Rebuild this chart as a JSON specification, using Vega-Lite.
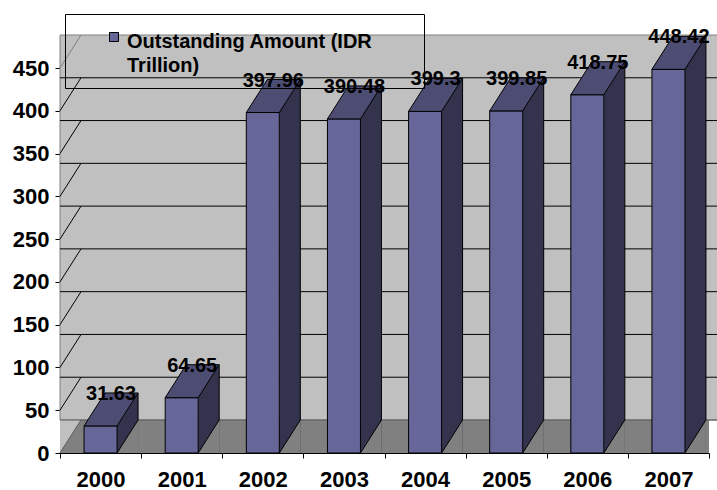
{
  "$schema": "https://vega.github.io/schema/vega-lite/v6.json",
  "width": 649,
  "height": 385,
  "autosize": {"type": "none"},
  "padding": {"left": 60, "top": 68, "right": 8, "bottom": 37},
  "background": "white",
  "config": {
    "view": {"fill": "#c0c0c0", "stroke": null},
    "font": "Liberation Sans",
    "style": {"guide-label": {"lineHeight": 24}}
  },
  "datasets": {
    "bonds": [
      {"year": "2000", "value": 31.63, "series": "Outstanding Amount (IDR Trillion)"},
      {"year": "2001", "value": 64.65, "series": "Outstanding Amount (IDR Trillion)"},
      {"year": "2002", "value": 397.96, "series": "Outstanding Amount (IDR Trillion)"},
      {"year": "2003", "value": 390.48, "series": "Outstanding Amount (IDR Trillion)"},
      {"year": "2004", "value": 399.3, "series": "Outstanding Amount (IDR Trillion)"},
      {"year": "2005", "value": 399.85, "series": "Outstanding Amount (IDR Trillion)"},
      {"year": "2006", "value": 418.75, "series": "Outstanding Amount (IDR Trillion)"},
      {"year": "2007", "value": 448.42, "series": "Outstanding Amount (IDR Trillion)"}
    ],
    "ticks": [
      {"v": 0}, {"v": 50}, {"v": 100}, {"v": 150}, {"v": 200},
      {"v": 250}, {"v": 300}, {"v": 350}, {"v": 400}, {"v": 450}
    ],
    "frame": [{"lo": 0, "hi": 450, "first": "2000", "last": "2007"}]
  },
  "resolve": {"scale": {"x": "shared", "y": "shared"}},
  "layer": [
    {
      "data": {"name": "frame"},
      "mark": {"type": "rect", "fill": "#c0c0c0", "stroke": "#808080", "strokeWidth": 1, "xOffset": 21, "x2Offset": 21, "yOffset": -33, "y2Offset": -33},
      "encoding": {
        "y": {"field": "lo", "type": "quantitative", "scale": {"domain": [0, 450], "nice": false, "zero": true},
          "axis": {"title": null, "values": [0, 50, 100, 150, 200, 250, 300, 350, 400, 450], "grid": false,
            "labelFont": "Liberation Sans", "labelFontSize": 22, "labelFontWeight": "bold", "labelColor": "black",
            "tickColor": "black", "tickSize": 5, "domainColor": "black", "labelPadding": 6}},
        "y2": {"field": "hi"}
      }
    },
    {
      "data": {"name": "frame"},
      "mark": {"type": "point", "shape": "M0,0 L21,-33 L21,0 Z", "size": 4, "filled": true, "fill": "#c0c0c0", "strokeWidth": 0, "opacity": 1},
      "encoding": {
        "x": {"field": "first", "type": "ordinal", "bandPosition": 0},
        "y": {"field": "hi", "type": "quantitative"}
      }
    },
    {
      "data": {"name": "frame"},
      "mark": {"type": "point", "shape": "M0,0 L21,-33", "size": 4, "filled": false, "stroke": "#808080", "strokeWidth": 1, "opacity": 1},
      "encoding": {
        "x": {"field": "first", "type": "ordinal", "bandPosition": 0},
        "y": {"field": "hi", "type": "quantitative"}
      }
    },
    {
      "data": {"name": "frame"},
      "mark": {"type": "rect", "fill": "#808080", "strokeWidth": 0, "xOffset": 0.01, "x2Offset": 21, "yOffset": 0.01, "y2Offset": -33},
      "encoding": {
        "y": {"field": "lo", "type": "quantitative"},
        "y2": {"field": "lo"}
      }
    },
    {
      "data": {"name": "frame"},
      "mark": {"type": "point", "shape": "M0,0 L0,-33 L21,-33 Z", "size": 4, "filled": true, "fill": "#c0c0c0", "strokeWidth": 0, "opacity": 1},
      "encoding": {
        "x": {"field": "first", "type": "ordinal", "bandPosition": 0},
        "y": {"field": "lo", "type": "quantitative"}
      }
    },
    {
      "data": {"name": "frame"},
      "mark": {"type": "point", "shape": "M0,0 L21,0 L21,-33 Z", "size": 4, "filled": true, "fill": "white", "strokeWidth": 0, "opacity": 1},
      "encoding": {
        "x": {"field": "last", "type": "ordinal", "bandPosition": 1},
        "y": {"field": "lo", "type": "quantitative"}
      }
    },
    {
      "data": {"name": "ticks"},
      "transform": [{"filter": "datum.v < 450"}],
      "mark": {"type": "rule", "strokeWidth": 1, "xOffset": 21, "x2Offset": 21, "yOffset": -33, "y2Offset": -33},
      "encoding": {
        "y": {"field": "v", "type": "quantitative"},
        "color": {"condition": {"test": "datum.v == 0", "value": "#5a5a5a"}, "value": "black"}
      }
    },
    {
      "data": {"name": "ticks"},
      "transform": [{"filter": "datum.v < 450"}],
      "mark": {"type": "point", "shape": "M0,0 L21,-33", "size": 4, "filled": false, "strokeWidth": 1, "opacity": 1},
      "encoding": {
        "x": {"datum": "2000", "type": "ordinal", "bandPosition": 0},
        "y": {"field": "v", "type": "quantitative"},
        "stroke": {"condition": {"test": "datum.v == 0", "value": "#5a5a5a"}, "value": "black"}
      }
    },
    {
      "data": {"name": "bonds"},
      "mark": {"type": "bar", "width": 21, "xOffset": 27, "x2Offset": 27, "yOffset": -33, "y2Offset": 0.01, "fill": "#33334d", "strokeWidth": 0},
      "encoding": {
        "x": {"field": "year", "type": "ordinal", "scale": {"domain": ["2000", "2001", "2002", "2003", "2004", "2005", "2006", "2007"], "paddingInner": 0, "paddingOuter": 0},
          "axis": {"title": null, "labelAngle": 0, "labelAlign": "center", "labelBaseline": "top", "tickBand": "extent", "grid": false,
            "labelFont": "Liberation Sans", "labelFontSize": 22, "labelFontWeight": "bold", "labelColor": "black",
            "tickColor": "black", "tickSize": 5, "domainColor": "black", "labelPadding": 11}},
        "y": {"field": "value", "type": "quantitative"},
        "y2": {"datum": 0}
      }
    },
    {
      "data": {"name": "bonds"},
      "mark": {"type": "point", "shape": "M16.5,0 L37.5,0 L37.5,-33 Z", "size": 4, "filled": true, "fill": "#808080", "strokeWidth": 0, "opacity": 1},
      "encoding": {
        "x": {"field": "year", "type": "ordinal"},
        "y": {"datum": 0, "type": "quantitative"}
      }
    },
    {
      "data": {"name": "bonds"},
      "mark": {"type": "rule", "color": "black", "strokeWidth": 1, "xOffset": 37.5, "x2Offset": 37.5, "yOffset": -33, "y2Offset": -33},
      "encoding": {
        "x": {"field": "year", "type": "ordinal"},
        "y": {"field": "value", "type": "quantitative"},
        "y2": {"datum": 0}
      }
    },
    {
      "data": {"name": "bonds"},
      "mark": {"type": "point", "shape": "M16.5,0 L37.5,-33", "size": 4, "filled": false, "stroke": "black", "strokeWidth": 1, "opacity": 1},
      "encoding": {
        "x": {"field": "year", "type": "ordinal"},
        "y": {"datum": 0, "type": "quantitative"}
      }
    },
    {
      "data": {"name": "bonds"},
      "mark": {"type": "bar", "width": 33, "stroke": "black", "strokeWidth": 1, "opacity": 1},
      "encoding": {
        "x": {"field": "year", "type": "ordinal"},
        "y": {"field": "value", "type": "quantitative"},
        "color": {"field": "series", "type": "nominal", "scale": {"range": ["#666699"]},
          "legend": {"orient": "none", "legendX": 5, "legendY": -54,
            "title": ["\u00a0", "\u00a0", "\u00a0"], "titleOrient": "right", "titleFontSize": 20, "titleLineHeight": 19, "titleBaseline": "top", "titleAnchor": "start", "titlePadding": 43,
            "labelExpr": "['Outstanding Amount (IDR', 'Trillion)']",
            "labelFont": "Liberation Sans", "labelFontSize": 20, "labelFontWeight": "bold", "labelColor": "black",
            "labelLimit": 400, "labelBaseline": "top",
            "symbolType": "M-4.5,0.5 L4.5,0.5 L4.5,9.5 L-4.5,9.5 Z", "symbolSize": 4, "symbolStrokeColor": "black", "symbolStrokeWidth": 1, "symbolFillColor": "#666699",
            "strokeColor": "black", "padding": 8, "symbolOffset": 31, "labelOffset": 3}}
      }
    },
    {
      "data": {"name": "bonds"},
      "mark": {"type": "point", "shape": "M-16.5,0 L16.5,0 L37.5,-33 L4.5,-33 Z", "size": 4, "filled": true, "fill": "#4d4d73", "stroke": "black", "strokeWidth": 1, "opacity": 1},
      "encoding": {
        "x": {"field": "year", "type": "ordinal"},
        "y": {"field": "value", "type": "quantitative"}
      }
    },
    {
      "data": {"name": "bonds"},
      "mark": {"type": "text", "align": "center", "baseline": "alphabetic", "dx": 10.5, "dy": -26, "font": "Liberation Sans", "fontSize": 20, "fontWeight": "bold", "color": "black"},
      "encoding": {
        "x": {"field": "year", "type": "ordinal"},
        "y": {"field": "value", "type": "quantitative"},
        "text": {"field": "value", "type": "quantitative", "format": "~f"}
      }
    }
  ]
}
